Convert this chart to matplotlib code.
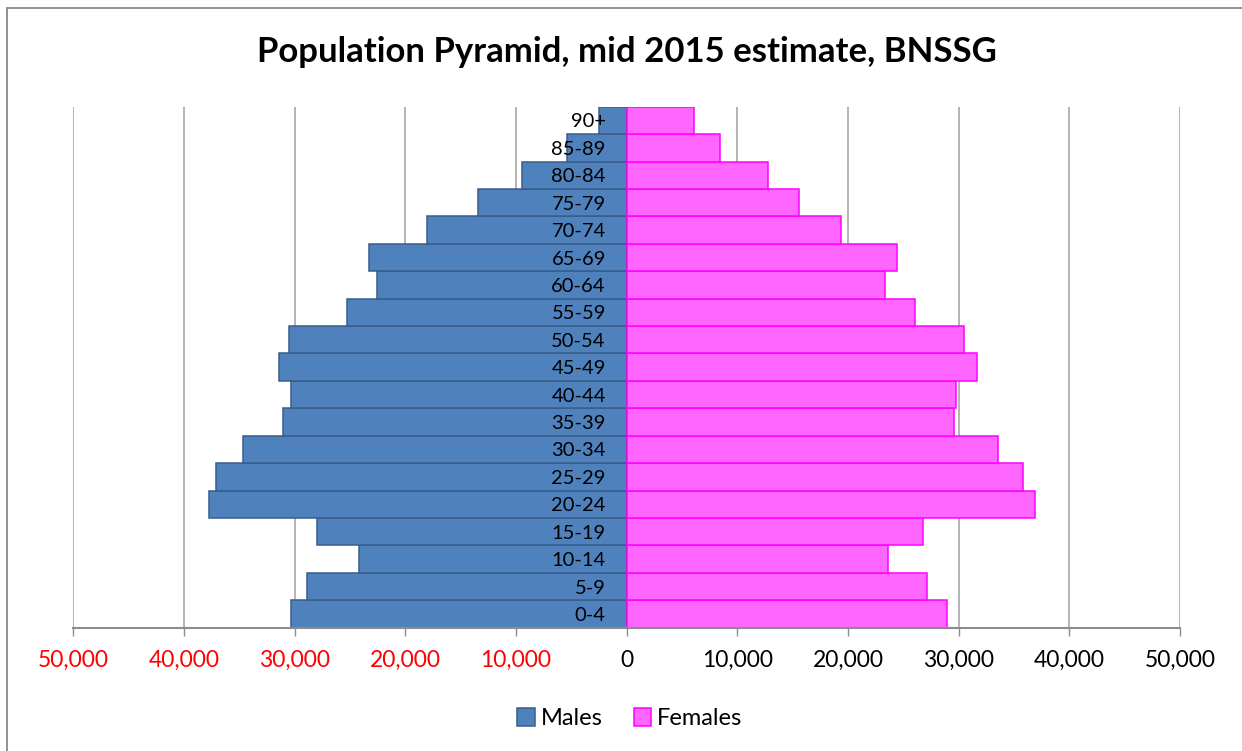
import matplotlib
matplotlib.use("Agg")
import matplotlib.pyplot as plt
from matplotlib.patches import Rectangle

plt.rcParams['font.family'] = ['Lato', 'DejaVu Sans']

# Age bands, youngest first
age_groups = ['0-4', '5-9', '10-14', '15-19', '20-24', '25-29', '30-34', '35-39',
              '40-44', '45-49', '50-54', '55-59', '60-64', '65-69', '70-74',
              '75-79', '80-84', '85-89', '90+']
males = [30300, 28850, 24200, 27950, 37770, 37080, 34670, 31020, 30360, 31440,
         30540, 25300, 22590, 23310, 18010, 13440, 9490, 5360, 2530]
females = [28910, 27170, 23640, 26750, 36930, 35780, 33580, 29580, 29760, 31630,
           30480, 26090, 23310, 24460, 19340, 15600, 12770, 8440, 6080]

x_ticks = list(range(-50000, 50001, 10000))

male_fill, male_edge = '#4F81BD', '#385D8A'
female_fill, female_edge = '#FF66FF', '#FF00FF'

fig = plt.figure(figsize=(12.42, 7.51), dpi=100)
ax = fig.add_axes([0.0590, 0.1642, 0.8911, 0.6937])

y = range(len(age_groups))
ax.barh(y, [-m for m in males], height=1.0, color=male_fill, edgecolor=male_edge,
        linewidth=1.1, label='Males', zorder=2)
ax.barh(y, females, height=1.0, color=female_fill, edgecolor=female_edge,
        linewidth=1.1, label='Females', zorder=2)

ax.set_xlim(-50000, 50000)
ax.set_ylim(-0.5, len(age_groups) - 0.5)

# x axis: absolute values, negatives in red
ax.set_xticks(x_ticks, labels=[f"{abs(v):,}" for v in x_ticks])
for v, lab in zip(x_ticks, ax.get_xticklabels()):
    lab.set_color('red' if v < 0 else 'black')
ax.tick_params(axis='x', direction='out', length=6, width=1, color='#8C8C8C',
               labelsize=16.5, pad=10)
ax.grid(axis='x', color='#A0A0A0', linewidth=1.1)
ax.set_axisbelow(True)

# age labels sit just left of the zero line, on top of the bars
ax.spines['left'].set_position(('data', 0))
ax.spines['left'].set_visible(False)
ax.set_yticks(list(y), labels=age_groups)
ax.tick_params(axis='y', length=0, labelsize=14.5, pad=15)
ax.yaxis.set_zorder(5)

for s in ['top', 'right']:
    ax.spines[s].set_visible(False)
ax.spines['bottom'].set_color('#8C8C8C')
ax.spines['bottom'].set_linewidth(1.5)

fig.text(627 / 1242, 0.931, 'Population Pyramid, mid 2015 estimate, BNSSG',
         ha='center', va='center', fontsize=25, fontweight='bold')

fig.legend(loc='center', bbox_to_anchor=(630 / 1242, 0.043), ncol=2, frameon=False,
           fontsize=17, handlelength=0.75, handleheight=0.75, handletextpad=0.25,
           columnspacing=1.3)

# chart area border (runs off the right and bottom edges)
fig.patches.append(Rectangle((7 / 1242, -0.05), 1.1, 1.05 - 8 / 751,
                             transform=fig.transFigure, fill=False,
                             edgecolor='#898989', linewidth=1.3))

fig.savefig('out.png', dpi=100)
